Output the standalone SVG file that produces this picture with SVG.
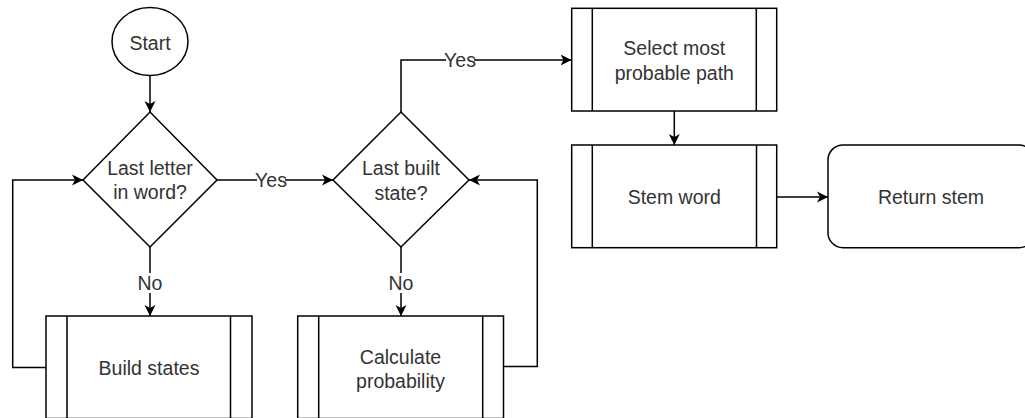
<svg xmlns="http://www.w3.org/2000/svg" width="1025" height="418" viewBox="0 0 1025 418">
  <defs>
    <marker id="arrow" markerUnits="userSpaceOnUse" markerWidth="14" markerHeight="14" refX="11" refY="6" orient="auto">
      <path d="M0,0.5 L11,6 L0,11.5 L3,6 Z" fill="#000"/>
    </marker>
  </defs>
  <style>
    .shape { fill: #fff; stroke: #000; stroke-width: 1.5; }
    .inner { fill: none; stroke: #000; stroke-width: 1.5; }
    .edge { fill: none; stroke: #000; stroke-width: 1.5; marker-end: url(#arrow); }
    .plain { fill: none; stroke: #000; stroke-width: 1.5; }
    text { font-family: "Liberation Sans", Arial, sans-serif; font-size: 19.5px; fill: #333; text-anchor: middle; dominant-baseline: central; }
    .lbl-bg { fill: #fff; }
  </style>

  <rect width="1025" height="418" fill="#fff"/>

  <!-- connectors -->
  <g id="connectors">
    <path class="edge" d="M150,75.5 L150,112"/>
    <path class="edge" d="M217,180 L333,180"/>
    <path class="edge" d="M150,247 L150,316"/>
    <path class="edge" d="M46,367.5 L12.7,367.5 L12.7,180 L83,180"/>
    <path class="edge" d="M401,247 L401,316"/>
    <path class="edge" d="M503.5,366.5 L537.3,366.5 L537.3,180 L469,180"/>
    <path class="edge" d="M401,112 L401,60 L571.5,60"/>
    <path class="edge" d="M674.3,111 L674.3,145"/>
    <path class="edge" d="M777,197 L828,197"/>

    <!-- edge labels -->
    <rect class="lbl-bg" x="257" y="170" width="28" height="20"/>
    <text x="271" y="180">Yes</text>
    <rect class="lbl-bg" x="446" y="50" width="28" height="20"/>
    <text x="460" y="60">Yes</text>
    <rect class="lbl-bg" x="138" y="273" width="24" height="20"/>
    <text x="150" y="283">No</text>
    <rect class="lbl-bg" x="389" y="273" width="24" height="20"/>
    <text x="401" y="283">No</text>
  </g>

  <g id="start">
    <ellipse class="shape" cx="150" cy="41.5" rx="38" ry="34"/>
    <text x="150" y="43">Start</text>
  </g>

  <g id="last-letter">
    <path class="shape" d="M150,112 L217,180 L150,247 L83,180 Z"/>
    <text x="150" y="168">Last letter</text>
    <text x="150" y="192">in word?</text>
  </g>

  <g id="last-built">
    <path class="shape" d="M401,112 L469,180 L401,247 L333,180 Z"/>
    <text x="401" y="168">Last built</text>
    <text x="401" y="193">state?</text>
  </g>

  <g id="build-states">
    <rect class="shape" x="46" y="316" width="206" height="102.5"/>
    <path class="inner" d="M67,316 V418.5 M230.5,316 V418.5"/>
    <text x="149" y="368">Build states</text>
  </g>

  <g id="calc-probability">
    <rect class="shape" x="297.7" y="316" width="205.8" height="102.5"/>
    <path class="inner" d="M318.7,316 V418.5 M482.7,316 V418.5"/>
    <text x="400.5" y="357">Calculate</text>
    <text x="400.5" y="381">probability</text>
  </g>

  <g id="select-path">
    <rect class="shape" x="571.7" y="8.3" width="205" height="102.7"/>
    <path class="inner" d="M592.3,8.3 V111 M756.3,8.3 V111"/>
    <text x="674.3" y="48">Select most</text>
    <text x="674.3" y="73">probable path</text>
  </g>

  <g id="stem-word">
    <rect class="shape" x="571.7" y="145" width="205" height="102.7"/>
    <path class="inner" d="M592.3,145 V247.7 M756.5,145 V247.7"/>
    <text x="674.3" y="197">Stem word</text>
  </g>

  <g id="return-stem">
    <rect class="shape" x="828" y="145" width="206" height="102.7" rx="15" ry="15"/>
    <text x="931" y="197">Return stem</text>
  </g>
</svg>
